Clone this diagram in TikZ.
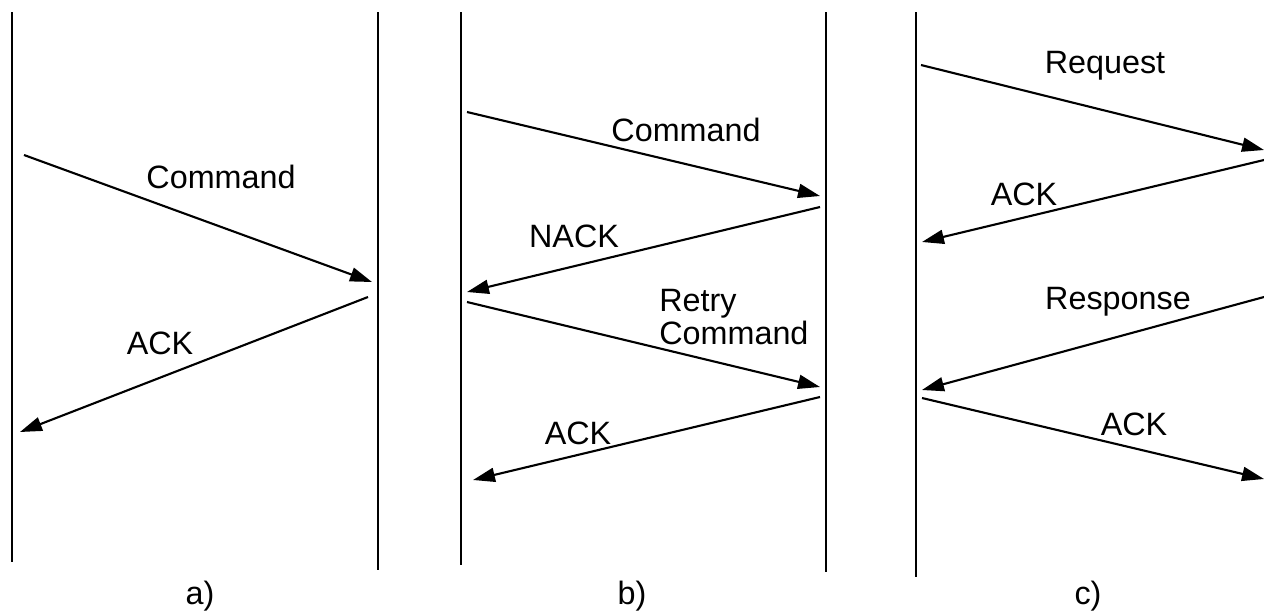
\documentclass[tikz,border=0pt]{standalone}
\usepackage{fontspec}
\setmainfont{Liberation Sans}
\usetikzlibrary{arrows.meta}
\begin{document}
\begin{tikzpicture}[x=0.02cm,y=-0.02cm,
  lifeline/.style={line width=1.6pt},
  msg/.style={line width=1.2pt,-{Triangle[length=12.5pt,width=8pt]}},
  lbl/.style={font=\fontsize{18.4}{21}\selectfont,inner sep=0pt},
  panelcap/.style={font=\fontsize{18.4}{21}\selectfont,inner sep=0pt}]
\useasboundingbox (0,0) rectangle (1264,612);

% lifelines
\draw[lifeline] (12,12) -- (12,562);
\draw[lifeline] (378,12) -- (378,570);
\draw[lifeline] (461,12) -- (461,565);
\draw[lifeline] (826,12) -- (826,572);
\draw[lifeline] (916,12) -- (916,577);

% message end points
\coordinate (a1s) at (24,155);   \coordinate (a1e) at (372,282);
\coordinate (a2s) at (368,297);  \coordinate (a2e) at (20,432);
\coordinate (b1s) at (467,112);  \coordinate (b1e) at (820,196);
\coordinate (b2s) at (820,207);  \coordinate (b2e) at (467,292);
\coordinate (b3s) at (467,302);  \coordinate (b3e) at (820,387);
\coordinate (b4s) at (820,397);  \coordinate (b4e) at (473,480);
\coordinate (c1s) at (921,65);   \coordinate (c1e) at (1264,150);
\coordinate (c2s) at (1264,160); \coordinate (c2e) at (922,242);
\coordinate (c3s) at (1264,297); \coordinate (c3e) at (922,390);
\coordinate (c4s) at (922,398);  \coordinate (c4e) at (1264,479);

% messages
\draw[msg] (a1s) -- (a1e);
\draw[msg] (a2s) -- (a2e);
\draw[msg] (b1s) -- (b1e);
\draw[msg] (b2s) -- (b2e);
\draw[msg] (b3s) -- (b3e);
\draw[msg] (b4s) -- (b4e);
\draw[msg] (c1s) -- (c1e);
\draw[msg] (c2s) -- (c2e);
\draw[msg] (c3s) -- (c3e);
\draw[msg] (c4s) -- (c4e);

% labels
\node[lbl] (la1) at (221,177) {Command};
\node[lbl] (la2) at (160,343) {ACK};
\node[lbl] (lb1) at (686,130) {Command};
\node[lbl] (lb2) at (574,236) {NACK};
\node[lbl,anchor=north west,align=left] (lb3) at (659,289) {Retry\\[-2pt]Command};
\node[lbl] (lb4) at (578,433) {ACK};
\node[lbl] (lc1) at (1105,66) {Request};
\node[lbl] (lc2) at (1024,194) {ACK};
\node[lbl] (lc3) at (1118,302) {Response};
\node[lbl] (lc4) at (1134,424) {ACK};

% captions
\node[panelcap] (ca) at (200,596) {a)};
\node[panelcap] (cb) at (632,596) {b)};
\node[panelcap] (cc) at (1088,596) {c)};
\end{tikzpicture}
\end{document}
